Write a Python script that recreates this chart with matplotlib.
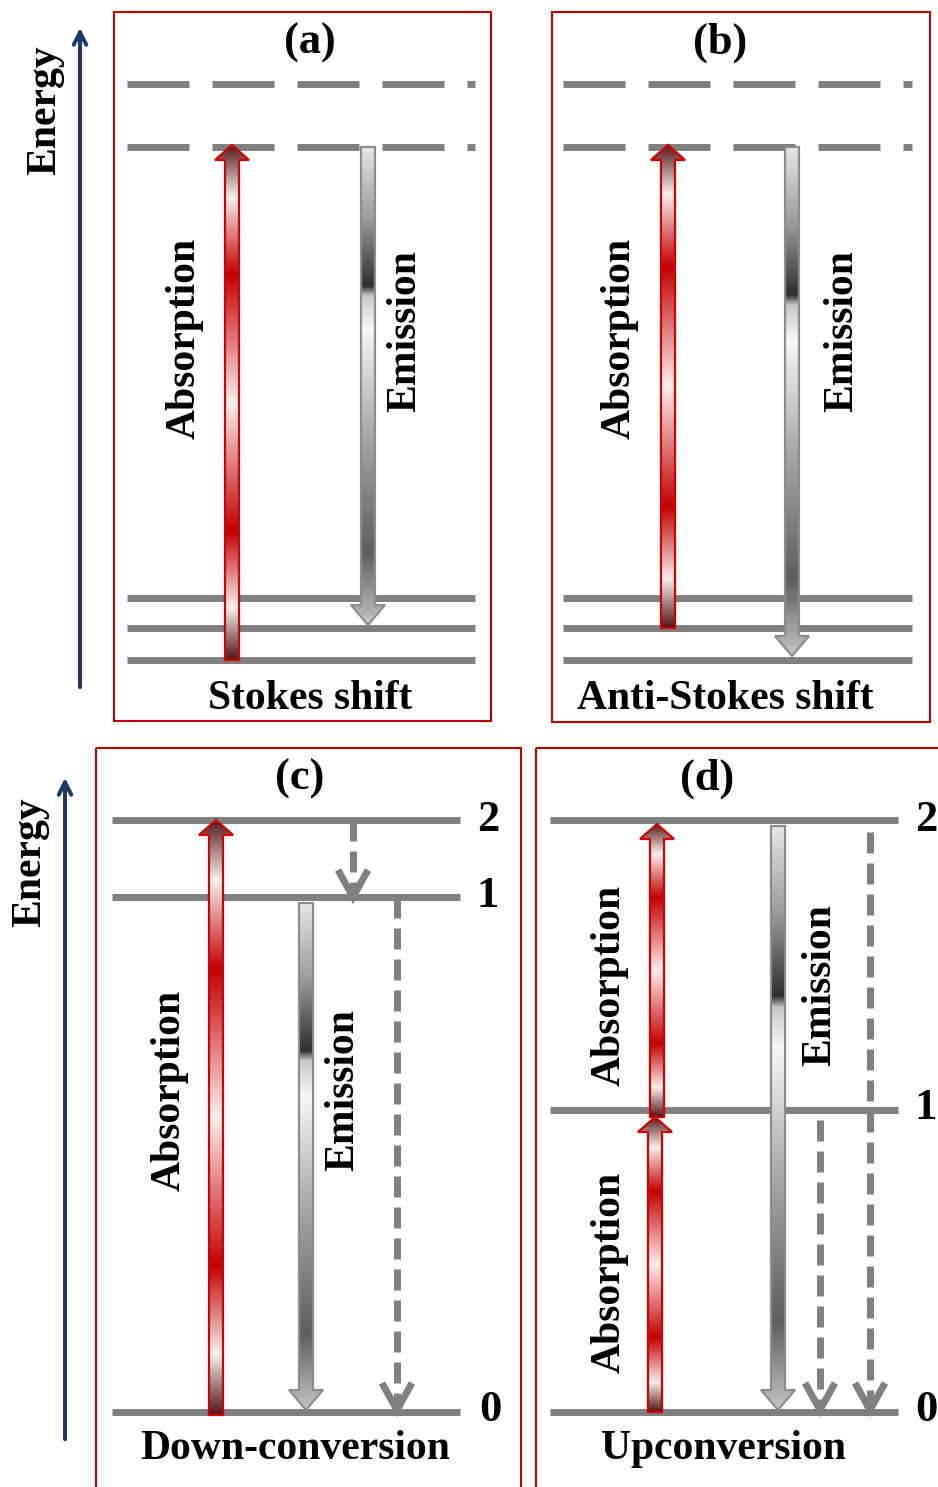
import numpy as np
import matplotlib
matplotlib.use("Agg")
from matplotlib import pyplot as plt
from matplotlib.patches import Polygon, Rectangle
from matplotlib.colors import LinearSegmentedColormap

plt.rcParams["lines.scale_dashes"] = False

# canvas is in pixels, y grows downward
W, H = 938, 1487

# panel frames: x0, y0, x1, y1
panel_boxes = [(114, 12, 491, 721), (552, 12, 930, 722),
               (96, 748, 521, 1500), (536, 748, 950, 1500)]
panel_tags = ["(a)", "(b)", "(c)", "(d)"]
tag_pos = [(310, 43), (720, 43), (300, 779), (707, 779)]
panel_names = ["Stokes shift", "Anti-Stokes shift", "Down-conversion", "Upconversion"]
name_pos = [(310, 699), (725, 699), (295, 1449), (724, 1449)]

# energy levels (x0, x1, y)
virtual_levels = [(127, 475, 84), (127, 475, 147), (563, 912, 84), (563, 912, 147)]
real_levels = [(127, 475, 598), (127, 475, 628), (127, 475, 660),
               (563, 912, 598), (563, 912, 628), (563, 912, 660),
               (112, 460, 820), (112, 460, 897), (112, 460, 1412),
               (550, 898, 820), (550, 898, 1110), (550, 898, 1412)]
level_numbers = ["2", "1", "0", "2", "1", "0"]
number_pos = [(488, 820), (488, 896), (490, 1410), (926, 820), (926, 1108), (926, 1410)]

# gradient arrows (x, y_tail, y_tip)
absorption_arrows = [(232, 660, 145), (668, 628, 145), (216, 1415, 820),
                     (655, 1412, 1117), (657, 1117, 824)]
emission_arrows = [(368, 147, 625), (792, 147, 656), (306, 903, 1410), (778, 826, 1410)]
# dashed non-radiative arrows (x, y_tail, y_tip)
dashed_arrows = [(353, 820, 897), (397, 897, 1410), (820, 1120, 1410), (870, 832, 1410)]

# rotated labels (text, x, y)
side_labels = [("Absorption", 185, 338), ("Emission", 405, 331),
               ("Absorption", 620, 338), ("Emission", 842, 331),
               ("Absorption", 170, 1090), ("Emission", 343, 1090),
               ("Absorption", 610, 985), ("Absorption", 610, 1272),
               ("Emission", 820, 985)]
energy_axes = [(80, 690, 25, 45, 110), (65, 1442, 775, 30, 862)]

GRAY = "#808080"
NAVY = "#1f3864"
RED = "#c00000"


def px(v):
    return v * 72.0 / 100.0


red_cmap = LinearSegmentedColormap.from_list("absorb", [
    (0.0, "#551515"), (0.1, "#f4f0f0"), (0.25, "#c40000"), (0.5, "#faeeee"),
    (0.75, "#c40000"), (0.9, "#f4f0f0"), (1.0, "#5a1c1c")])
gray_cmap = LinearSegmentedColormap.from_list("emit", [
    (0.0, "#e6e6e6"), (0.15, "#9a9a9a"), (0.29, "#2e2e2e"), (0.31, "#c8c8c8"),
    (0.38, "#f8f8f8"), (0.6, "#a8a8a8"), (0.85, "#5e5e5e"), (1.0, "#c4c4c4")])


def gradient_arrow(ax, x, y0, y1, cmap, edge, w, hw, hl):
    d = 1 if y1 > y0 else -1
    yh = y1 - d * hl
    verts = [(x - w, y0), (x - w, yh), (x - hw, yh), (x, y1),
             (x + hw, yh), (x + w, yh), (x + w, y0)]
    poly = Polygon(verts, closed=True, facecolor="none", edgecolor=edge,
                   lw=px(2.2), zorder=4, joinstyle="miter")
    ax.add_patch(poly)
    grad = np.linspace(0, 1, 256).reshape(-1, 1)
    im = ax.imshow(grad, cmap=cmap, origin="lower", aspect="auto",
                   extent=(x - hw, x + hw, y0, y1), interpolation="bilinear",
                   zorder=3)
    im.set_clip_path(poly)


fig = plt.figure(figsize=(W / 100, H / 100), dpi=100)
ax = fig.add_axes([0, 0, 1, 1])
ax.set_xlim(0, W)
ax.set_ylim(H, 0)
ax.axis("off")

font = dict(family="Liberation Serif", weight="bold", color="black")

for (x0, y0, x1, y1) in panel_boxes:
    ax.add_patch(Rectangle((x0, y0), x1 - x0, y1 - y0, fill=False,
                           edgecolor=RED, lw=1.5, zorder=1))
for tag, (tx, ty) in zip(panel_tags, tag_pos):
    ax.text(tx, ty, tag, ha="center", va="center", fontsize=32, **font)
for name, (tx, ty) in zip(panel_names, name_pos):
    ax.text(tx, ty, name, ha="center", va="center", fontsize=30, **font)

for (x0, x1, y) in virtual_levels:
    ax.plot([x0, x1], [y, y], color=GRAY, lw=px(7), dashes=(px(62), px(23)),
            dash_capstyle="butt", zorder=2)
for (x0, x1, y) in real_levels:
    ax.plot([x0, x1], [y, y], color=GRAY, lw=px(7), solid_capstyle="butt", zorder=2)
for num, (tx, ty) in zip(level_numbers, number_pos):
    ax.text(tx, ty, num, ha="center", va="center", fontsize=32, **font)

for (x, y0, y1) in absorption_arrows:
    gradient_arrow(ax, x, y0, y1, red_cmap, "#d40000", 7, 17, 15)
for (x, y0, y1) in emission_arrows:
    gradient_arrow(ax, x, y0, y1, gray_cmap, "#8c8c8c", 7, 17, 20)

for (x, y0, y1) in dashed_arrows:
    ax.plot([x, x], [y0, y1 - 4], color=GRAY, lw=px(7), dashes=(px(21), px(10)),
            dash_capstyle="butt", zorder=2)
    ax.plot([x - 15, x, x + 15], [y1 - 27, y1, y1 - 27], color=GRAY, lw=px(7),
            solid_joinstyle="miter", solid_capstyle="butt", zorder=2)

for (txt, tx, ty) in side_labels:
    ax.text(tx, ty, txt, ha="center", va="center", rotation=90, fontsize=30, **font)

for (x, y0, y1, tx, ty) in energy_axes:
    ax.annotate("", xy=(x, y1), xytext=(x, y0),
                arrowprops=dict(arrowstyle="->,head_length=0.9,head_width=0.45",
                                color=NAVY, lw=px(4)))
    ax.text(tx, ty, "Energy", ha="center", va="center", rotation=90, fontsize=30, **font)

fig.savefig("out.png", dpi=100)
